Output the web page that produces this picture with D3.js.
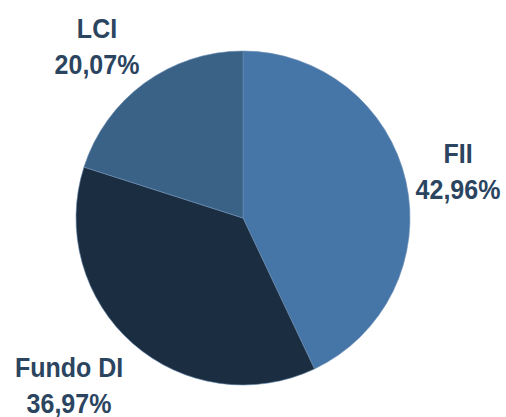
<!DOCTYPE html>
<html><head><meta charset="utf-8">
<script src="https://cdn.jsdelivr.net/npm/d3@7"></script>
<style>body{margin:0;background:#fff}svg{display:block}</style>
</head><body>
<script>
const categories = ["FII", "Fundo DI", "LCI"];
const values = [42.96, 36.97, 20.07];
const valueLabels = ["42,96%", "36,97%", "20,07%"];
const colors = ["#4676a8", "#1b2d40", "#3a6186"];

const W = 506, H = 417, cx = 243, cy = 218, R = 167;
// label anchor points (text block centre x, first baseline y)
const labelAnchors = [[458, 163], [69, 377], [97, 38]];

const svg = d3.select("body").append("svg").attr("width", W).attr("height", H);
const g = svg.append("g").attr("transform", `translate(${cx},${cy})`);
const pie = d3.pie().sort(null).value(d => d)(values);
const arc = d3.arc().innerRadius(0).outerRadius(R);
g.selectAll("path").data(pie).join("path")
  .attr("d", arc).attr("fill", (d, i) => colors[i])
  .attr("stroke", "#6d8fb3").attr("stroke-width", 0.6);

const lab = svg.append("g").attr("font-family", "Liberation Sans, Arial, sans-serif")
  .attr("font-weight", "bold").attr("font-size", 25).attr("fill", "#2b4560")
  .attr("text-anchor", "middle");
categories.forEach((c, i) => {
  const [x, y] = labelAnchors[i];
  lab.append("text").attr("transform", `translate(${x},${y}) scale(1,1.1)`).text(c);
  lab.append("text").attr("transform", `translate(${x},${y + 36}) scale(1,1.1)`).text(valueLabels[i]);
});
</script>
</body></html>
